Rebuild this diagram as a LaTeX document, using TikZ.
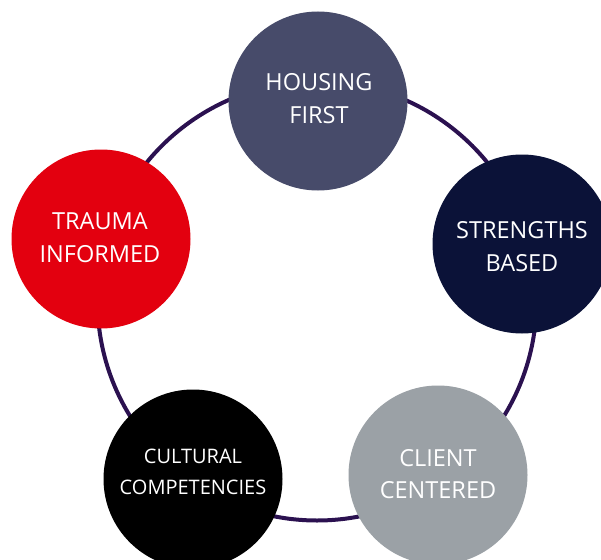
\documentclass[tikz,border=0pt]{standalone}
\usepackage{fontspec}
\setmainfont{Open Sans}
\definecolor{ringcol}{HTML}{2B1150}
\definecolor{housingcol}{HTML}{474B6A}
\definecolor{strengthcol}{HTML}{0B1238}
\definecolor{clientcol}{HTML}{9BA1A6}
\definecolor{culturalcol}{HTML}{000000}
\definecolor{traumacol}{HTML}{E3000F}
\begin{document}
\begin{tikzpicture}[x=1pt,y=-1pt,
  bubble/.style={circle, minimum size=179pt, inner sep=0pt, draw=none},
  btext/.style={text=white, align=center, inner sep=0pt, font=\fontsize{23.5}{32.5}\selectfont},
  bsmall/.style={text=white, align=center, inner sep=0pt, font=\fontsize{20}{31}\selectfont}]
\clip (0,0) rectangle (601,559);
\fill[white] (0,0) rectangle (601,559);
\coordinate (c) at (317,301);
\draw[ringcol, line width=4pt] (c) circle[radius=219.5pt];
\node[bubble, fill=housingcol] (housing) at (318,101) {};
\node[bubble, fill=strengthcol] (strengths) at (522,244) {};
\node[bubble, fill=clientcol] (client) at (438,475) {};
\node[bubble, fill=culturalcol] (cultural) at (193,479) {};
\node[bubble, fill=traumacol] (trauma) at (101,239) {};
\node[btext] (thousing) at (319,98.5) {HOUSING\\FIRST};
\node[btext] (tstrengths) at (522,246.5) {STRENGTHS\\BASED};
\node[btext] (tclient) at (438,474) {CLIENT\\CENTERED};
\node[bsmall] (tcultural) at (193,471.5) {CULTURAL\\COMPETENCIES};
\node[btext] (ttrauma) at (100,237.5) {TRAUMA\\INFORMED};
\end{tikzpicture}
\end{document}
